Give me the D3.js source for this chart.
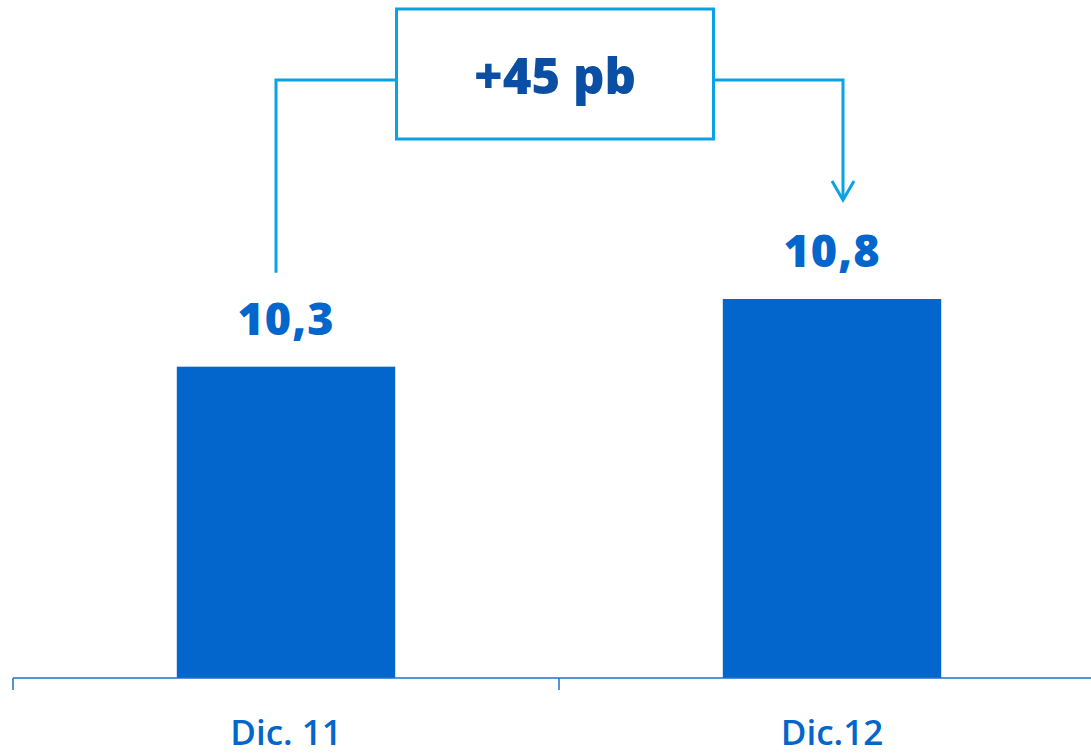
<!DOCTYPE html>
<html>
<head>
<meta charset="utf-8">
<script src="https://cdn.jsdelivr.net/npm/d3@7"></script>
<style>
  html, body { margin: 0; padding: 0; background: #ffffff; }
  svg { display: block; }
</style>
</head>
<body>
<svg id="chart" width="1091" height="754"></svg>
<script>
// Ratio values at year end
const categories = ["Dic. 11", "Dic.12"];
const values = [10.3, 10.8];
const valueLabels = ["10,3", "10,8"];
const changeLabel = "+45 pb";
const axisFloor = 8;

const W = 1091, H = 754;
const svg = d3.select("#chart");

const barColor = "#0366cc";
const labelColor = "#0366cc";
const connectorColor = "#0aa2e4";
const changeColor = "#0a4fa3";
const fontFamily = "'Open Sans', 'Noto Sans', sans-serif";

const x = d3.scaleBand()
  .domain(categories)
  .range([13, 1105])
  .paddingInner(0.6)
  .paddingOuter(0.3);

const y = d3.scaleLinear()
  .domain([axisFloor, d3.max(values)])
  .range([678, 299]);

// Bars
svg.append("g").selectAll("rect")
  .data(categories)
  .join("rect")
  .attr("x", d => x(d))
  .attr("y", (d, i) => y(values[i]))
  .attr("width", x.bandwidth())
  .attr("height", (d, i) => y(axisFloor) - y(values[i]))
  .attr("fill", barColor);

// Value labels
svg.append("g").selectAll("text")
  .data(categories)
  .join("text")
  .attr("x", d => x(d) + x.bandwidth() / 2)
  .attr("y", (d, i) => y(values[i]) - 32)
  .attr("text-anchor", "middle")
  .attr("font-family", fontFamily)
  .attr("font-weight", 800)
  .attr("font-size", 45)
  .attr("letter-spacing", 1)
  .attr("fill", labelColor)
  .text((d, i) => valueLabels[i]);

// Category axis: baseline with ticks at band boundaries
const axisY = y(axisFloor);
const axis = svg.append("g").attr("stroke", "#1f6fcf").attr("stroke-width", 1.5);
axis.append("line")
  .attr("x1", x.range()[0]).attr("x2", W)
  .attr("y1", axisY).attr("y2", axisY);
axis.selectAll("line.tick")
  .data(d3.range(categories.length + 1))
  .join("line")
  .attr("class", "tick")
  .attr("x1", i => x.range()[0] + i * x.step())
  .attr("x2", i => x.range()[0] + i * x.step())
  .attr("y1", axisY).attr("y2", axisY + 12);

svg.append("g").selectAll("text")
  .data(categories)
  .join("text")
  .attr("x", d => x(d) + x.bandwidth() / 2)
  .attr("y", axisY + 67)
  .attr("text-anchor", "middle")
  .attr("font-family", fontFamily)
  .attr("font-weight", 600)
  .attr("font-size", 35)
  .attr("fill", labelColor)
  .text(d => d);

// Change annotation: box with bracket connectors
const cx0 = x(categories[0]) + x.bandwidth() / 2;
const cx1 = x(categories[1]) + x.bandwidth() / 2;
const boxCx = (cx0 + cx1) / 2 - 4;
const boxW = 317, boxH = 130, boxTop = 9;
const linkY = 80;
const leftX = cx0 - 10;
const rightX = cx1 + 11;

const ann = svg.append("g");
ann.append("rect")
  .attr("x", boxCx - boxW / 2)
  .attr("y", boxTop)
  .attr("width", boxW)
  .attr("height", boxH)
  .attr("fill", "#ffffff")
  .attr("stroke", connectorColor)
  .attr("stroke-width", 3);

ann.append("path")
  .attr("d", `M${boxCx - boxW / 2},${linkY} H${leftX} V${y(values[0]) - 94}`)
  .attr("fill", "none")
  .attr("stroke", connectorColor)
  .attr("stroke-width", 3);

const tipY = y(values[1]) - 99;
ann.append("path")
  .attr("d", `M${boxCx + boxW / 2},${linkY} H${rightX} V${tipY}`)
  .attr("fill", "none")
  .attr("stroke", connectorColor)
  .attr("stroke-width", 3);

ann.append("path")
  .attr("d", `M${rightX - 11},${tipY - 19} L${rightX},${tipY} L${rightX + 11},${tipY - 19}`)
  .attr("fill", "none")
  .attr("stroke", connectorColor)
  .attr("stroke-width", 3);

ann.append("text")
  .attr("x", boxCx)
  .attr("y", 94)
  .attr("text-anchor", "middle")
  .attr("font-family", fontFamily)
  .attr("font-weight", 800)
  .attr("font-size", 49)
  .attr("fill", changeColor)
  .text(changeLabel);
</script>
</body>
</html>
